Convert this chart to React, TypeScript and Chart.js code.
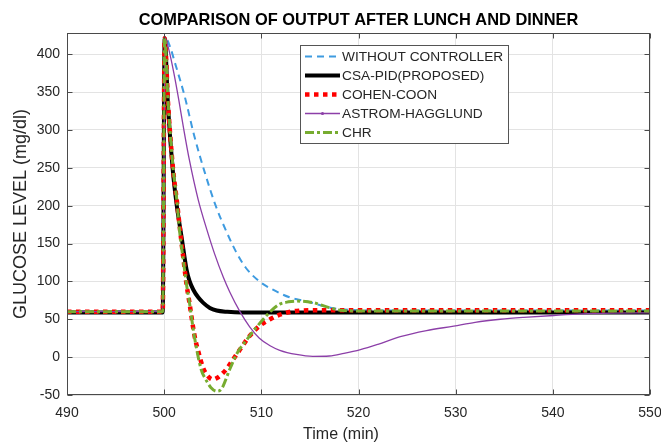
import React, { useEffect, useRef } from "react";
import { Chart, registerables } from "chart.js";

Chart.register(...registerables);

const TITLE = "COMPARISON OF OUTPUT AFTER LUNCH AND DINNER";
const X_LABEL = "Time (min)";
const Y_LABEL = "GLUCOSE LEVEL (mg/dl)";
const X_TICKS = [490, 500, 510, 520, 530, 540, 550];
const Y_TICKS = [-50, 0, 50, 100, 150, 200, 250, 300, 350, 400];

const NAMES = ["WITHOUT CONTROLLER", "CSA-PID(PROPOSED)", "COHEN-COON", "ASTROM-HAGGLUND", "CHR"];

const tWithout = [490, 499.85, 500.15, 500.6, 501.1, 502.1, 503.1, 504.2, 505.3, 506.4, 507.4, 508.4, 509.8, 511.2, 512.9, 514, 515, 516.5, 518, 520, 525, 550];
const vWithout = [60, 60, 421, 410, 389, 345, 292, 243, 200, 166, 139, 118, 100, 89, 79, 75.5, 72.5, 67, 63.5, 62, 61.5, 61.5];

const tCsa = [490, 499.85, 500.05, 500.4, 500.9, 501.3, 501.8, 502.3, 502.6, 503.0, 503.5, 504.0, 504.7, 505.4, 506.5, 508, 550];
const vCsa = [59, 59, 421, 330, 245, 200, 158, 116, 101, 89, 79, 72, 65, 61.5, 59.8, 59, 59];

const tCohen = [490, 499.85, 500.05, 500.4, 500.9, 501.3, 501.6, 502.0, 502.3, 502.6, 503.1, 503.5, 504.0, 504.5, 505.0, 505.5, 506.4, 507.1, 507.8, 508.8, 509.8, 510.9, 511.9, 513.6, 516, 550];
const vCohen = [60, 60, 421, 335, 250, 207, 172, 128, 96, 72, 30, 8, -14, -25, -29.5, -27, -16, -3, 10, 28, 41, 50, 56, 61, 62, 62];

const tAstrom = [490, 499.85, 500.1, 500.5, 501.0, 501.5, 502.0, 502.6, 503.5, 504.4, 505.2, 506.1, 506.75, 507.8, 508.8, 509.8, 510.9, 511.9, 513.6, 515.3, 517, 518.5, 520.2, 522, 524.3, 527, 529.8, 532, 534.6, 537, 540.1, 543, 546, 550];
const vAstrom = [60, 60, 421, 405, 375, 340, 302, 260, 208, 168, 136, 105, 86, 60, 40, 25, 15, 9, 3.5, 1, 1.5, 5, 10, 17, 27, 35, 41, 46, 50, 52.5, 55, 57, 58, 58.5];

const tChr = [490, 499.85, 500.05, 500.4, 500.9, 501.3, 501.6, 502.0, 502.3, 502.6, 503.1, 503.8, 504.3, 504.8, 505.4, 505.9, 506.75, 507.5, 508.5, 509.4, 510.2, 511.0, 511.9, 512.8, 513.6, 515.3, 517.1, 518.1, 520, 550];
const vChr = [60, 60, 421, 338, 252, 208, 165, 125, 96, 72, 28, -16, -30, -40, -45, -42, -16, 5, 23, 38, 50, 61, 70, 73, 74, 72, 65, 62, 61, 61];

const FONT = "'Liberation Sans', Arial, Helvetica, sans-serif";
const TEXT = "#262626";
const FRAME = "#4a4a4a";

const pts = (t: number[], v: number[]) => t.map((x, i) => ({ x, y: v[i] }));

const framePlugin = {
  id: "matlabFrame",
  afterDraw(chart: any) {
    const { ctx, chartArea: a, scales } = chart;
    ctx.save();
    ctx.setLineDash([]);
    ctx.strokeStyle = FRAME;
    ctx.lineWidth = 1;
    const l = Math.round(a.left) + 0.5;
    const r = Math.round(a.right) - 0.5;
    const t = Math.round(a.top) + 0.5;
    const b = Math.round(a.bottom) - 0.5;
    ctx.strokeRect(l, t, r - l, b - t);
    const L = 5;
    ctx.beginPath();
    scales.x.ticks.forEach((tk: any) => {
      const px = Math.round(scales.x.getPixelForValue(tk.value)) + 0.5;
      ctx.moveTo(px, b);
      ctx.lineTo(px, b - L);
      ctx.moveTo(px, t);
      ctx.lineTo(px, t + L);
    });
    scales.y.ticks.forEach((tk: any) => {
      const py = Math.round(scales.y.getPixelForValue(tk.value)) + 0.5;
      ctx.moveTo(l, py);
      ctx.lineTo(l + L, py);
      ctx.moveTo(r, py);
      ctx.lineTo(r - L, py);
    });
    ctx.stroke();

    // x axis label (placed as in the reference, slightly left of centre)
    ctx.fillStyle = TEXT;
    ctx.font = `16px ${FONT}`;
    ctx.textAlign = "center";
    ctx.textBaseline = "middle";
    ctx.fillText(X_LABEL, 341, 435);

    // legend
    const bx = 300.5, by = 45.5, bw = 208, bh = 98;
    ctx.fillStyle = "#ffffff";
    ctx.fillRect(bx, by, bw, bh);
    ctx.strokeStyle = "#555555";
    ctx.strokeRect(bx, by, bw, bh);
    ctx.font = `13.7px ${FONT}`;
    ctx.textBaseline = "middle";
    ctx.textAlign = "left";
    chart.data.datasets.forEach((ds: any, i: number) => {
      const y = 56.5 + i * 19;
      ctx.save();
      ctx.strokeStyle = ds.borderColor;
      ctx.lineWidth = ds.borderWidth;
      ctx.setLineDash(ds.borderDash || []);
      ctx.beginPath();
      ctx.moveTo(305, y);
      ctx.lineTo(340, y);
      ctx.stroke();
      if (ds.legendMarker) {
        ctx.fillStyle = ds.borderColor;
        ctx.beginPath();
        ctx.arc(322.5, y, 1.6, 0, Math.PI * 2);
        ctx.fill();
      }
      ctx.restore();
      ctx.fillStyle = TEXT;
      ctx.fillText(ds.label, 342, y + 0.5);
    });
    ctx.restore();
  },
};

export default function App() {
  const ref = useRef<HTMLCanvasElement | null>(null);
  useEffect(() => {
    if (!ref.current) return;
    const common = {
      pointRadius: 0,
      pointHoverRadius: 0,
      fill: false,
      cubicInterpolationMode: "monotone" as const,
      borderCapStyle: "butt" as const,
      borderJoinStyle: "round" as const,
    };
    const chart = new Chart(ref.current, {
      type: "line",
      data: {
        datasets: [
          { ...common, label: NAMES[0], data: pts(tWithout, vWithout), borderColor: "#3e9be0", borderWidth: 2, borderDash: [7, 5], order: 5 },
          { ...common, label: NAMES[1], data: pts(tCsa, vCsa), borderColor: "#000000", borderWidth: 4, borderDash: [], order: 4 },
          { ...common, label: NAMES[2], data: pts(tCohen, vCohen), borderColor: "#ff0000", borderWidth: 4.5, borderDash: [4.5, 4.5], order: 3 },
          { ...common, label: NAMES[3], data: pts(tAstrom, vAstrom), borderColor: "#8c3fa8", borderWidth: 1.3, borderDash: [], order: 2, legendMarker: true } as any,
          { ...common, label: NAMES[4], data: pts(tChr, vChr), borderColor: "#77ac30", borderWidth: 3, borderDash: [9, 3, 3, 3], order: 1 },
        ],
      },
      options: {
        responsive: false,
        animation: false,
        events: [],
        layout: { padding: { left: 0, right: 11, top: 0, bottom: 0 } },
        plugins: {
          legend: { display: false },
          tooltip: { enabled: false },
          title: {
            display: true,
            text: TITLE,
            fullSize: false,
            color: "#000000",
            font: { family: FONT, size: 16.4, weight: "bold" },
            padding: { top: 10.7, bottom: 2.6 },
          },
        },
        scales: {
          x: {
            type: "linear",
            min: 490,
            max: 550,
            afterBuildTicks: (s: any) => { s.ticks = X_TICKS.map((v) => ({ value: v })); },
            afterFit: (s: any) => { s.height = 49; s.paddingLeft = 0; s.paddingRight = 0; },
            grid: { color: "#e3e3e3", drawTicks: false, tickLength: 0 },
            border: { display: false },
            ticks: { color: TEXT, font: { family: FONT, size: 14 }, padding: 10, maxRotation: 0 },
            title: { display: false },
          },
          y: {
            type: "linear",
            min: -50,
            max: 428,
            afterBuildTicks: (s: any) => { s.ticks = Y_TICKS.map((v) => ({ value: v })); },
            afterFit: (s: any) => { s.width = 67; },
            grid: { color: "#e3e3e3", drawTicks: false, tickLength: 0 },
            border: { display: false },
            ticks: { color: TEXT, font: { family: FONT, size: 14 }, padding: 7 },
            title: { display: true, text: Y_LABEL, color: TEXT, font: { family: FONT, size: 18 }, padding: { top: 10.7, bottom: 0 } },
          },
        },
      },
      plugins: [framePlugin],
    } as any);
    return () => chart.destroy();
  }, []);
  return (
    <div style={{ position: "fixed", left: 0, top: 0, width: 661, height: 444, background: "#fff" }}>
      <canvas ref={ref} width={661} height={444} style={{ display: "block" }} />
    </div>
  );
}
